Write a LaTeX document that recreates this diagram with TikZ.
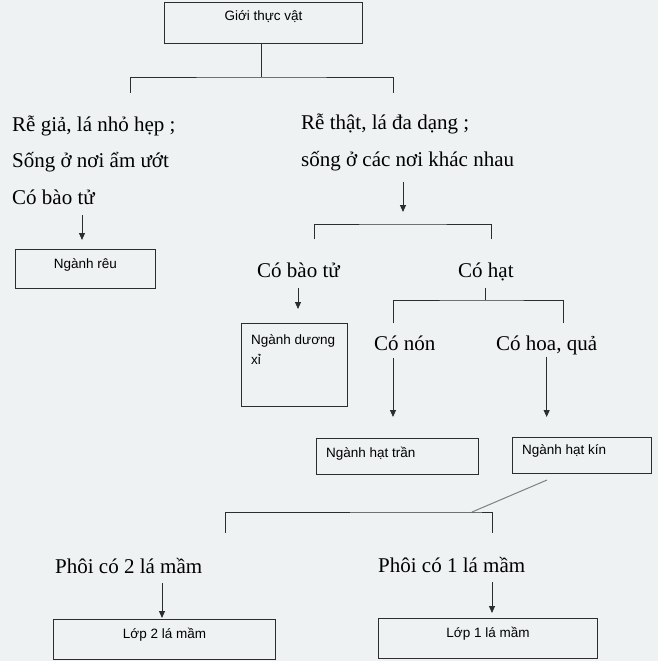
\documentclass[tikz,border=0pt]{standalone}
\usepackage{fontspec}
\setmainfont{Liberation Serif}
\setsansfont{Liberation Sans}
\usetikzlibrary{arrows.meta,positioning,calc}
\definecolor{PaperGrey}{RGB}{238,242,243}
\definecolor{InkGrey}{RGB}{45,45,45}
\tikzset{
  box/.style={draw=InkGrey,line width=1pt,inner sep=0pt,anchor=north west},
  tag/.style={font=\sffamily\fontsize{13.5}{20}\selectfont,inner sep=3pt},
  txt/.style={font=\fontsize{21}{36.5}\selectfont,inner sep=0pt,align=left,
    anchor=base west},
  link/.style={line width=1pt,InkGrey},
  arrow/.style={-{Triangle[length=7pt,width=6pt]},line width=1pt,InkGrey}
}

\begin{document}
\begin{tikzpicture}[x=1pt,y=-1pt]
  \fill[PaperGrey] (0,0) rectangle (658,661);
  \useasboundingbox (0,0) rectangle (658,661);

  % boxes
  \node[box,minimum width=198pt,minimum height=41pt,
    label={[tag,anchor=north,yshift=-5pt]north:Giới thực vật}] (gioi) at (164,2) {};
  \node[box,minimum width=140pt,minimum height=39pt,
    label={[tag,anchor=north,yshift=-6pt]north:Ngành rêu}] (reu) at (15,249) {};
  \node[box,minimum width=106pt,minimum height=83pt,
    label={[tag,anchor=north west,align=left,xshift=7pt,yshift=-8pt]north west:Ngành dương\\xỉ}] (duong) at (241,323) {};
  \node[box,minimum width=162pt,minimum height=36pt,
    label={[tag,anchor=north west,xshift=7pt,yshift=-6pt]north west:Ngành hạt trần}] (tran) at (316,438) {};
  \node[box,minimum width=139pt,minimum height=36pt,
    label={[tag,anchor=north west,xshift=7pt,yshift=-4pt]north west:Ngành hạt kín}] (kin) at (512,437) {};
  \node[box,minimum width=222pt,minimum height=40pt,
    label={[tag,anchor=north,yshift=-6pt]north:Lớp 2 lá mầm}] (lop2) at (53,619) {};
  \node[box,minimum width=219pt,minimum height=40pt,
    label={[tag,anchor=north,yshift=-6pt]north:Lớp 1 lá mầm}] (lop1) at (378,618) {};

  % texts
  \node[txt] (gia) at (12,204) {Rễ giả, lá nhỏ hẹp ;\\Sống ở nơi ẩm ướt\\Có bào tử};
  \node[txt] (that) at (301,166) {Rễ thật, lá đa dạng ;\\sống ở các nơi khác nhau};
  \node[txt] (baotu) at (257,277) {Có bào tử};
  \node[txt] (hat) at (458,277) {Có hạt};
  \node[txt] (non) at (374,350) {Có nón};
  \node[txt] (hoa) at (496,350) {Có hoa, quả};
  \node[txt] (hai) at (55,573) {Phôi có 2 lá mầm};
  \node[txt] (mot) at (378,572) {Phôi có 1 lá mầm};

  % bracket feet
  \coordinate (b1) at (261,77);
  \coordinate (b1l) at (130,93);
  \coordinate (b1r) at (393,93);
  \coordinate (b2) at (403,224);
  \coordinate (b2l) at (314,239);
  \coordinate (b2r) at (491,239);
  \coordinate (b3) at (485,300);
  \coordinate (b3l) at (393,323);
  \coordinate (b3r) at (563,323);
  \coordinate (b4) at (472,512);
  \coordinate (b4l) at (225,533);
  \coordinate (b4r) at (492,533);

  \draw[link] (gioi.south -| b1) -- (b1);
  \draw[link] (b1l) |- (b1) -| (b1r);
  \draw[link] (b2l) |- (b2) -| (b2r);
  \draw[link,shorten <=7pt] (hat.south -| b3) -- (b3);
  \draw[link] (b3l) |- (b3) -| (b3r);
  \draw[line width=1pt,gray] ($(kin.south west)+(35,6)$) -- (b4);
  \draw[link] (b4l) |- (b4) -| (b4r);

  % arrows
  \draw[arrow,shorten <=11pt,shorten >=9pt] (gia.south -| 82,0) -- (reu.north -| 82,0);
  \draw[arrow,shorten <=11pt,shorten >=12pt] (that.south -| b2) -- (b2);
  \draw[arrow,shorten <=11pt,shorten >=14pt] (baotu.south -| 298,0) -- (duong.north -| 298,0);
  \draw[arrow,shorten <=8pt,shorten >=21pt] (non.south -| b3l) -- (tran.north -| b3l);
  \draw[arrow,shorten <=2pt,shorten >=20pt] (hoa.south) -- (hoa.south |- kin.north);
  \draw[arrow,shorten <=10pt,shorten >=1pt] (hai.south -| 162,0) -- (lop2.north -| 162,0);
  \draw[arrow,shorten <=10pt,shorten >=5pt] (mot.south -| b4r) -- (lop1.north -| b4r);
\end{tikzpicture}
\end{document}
